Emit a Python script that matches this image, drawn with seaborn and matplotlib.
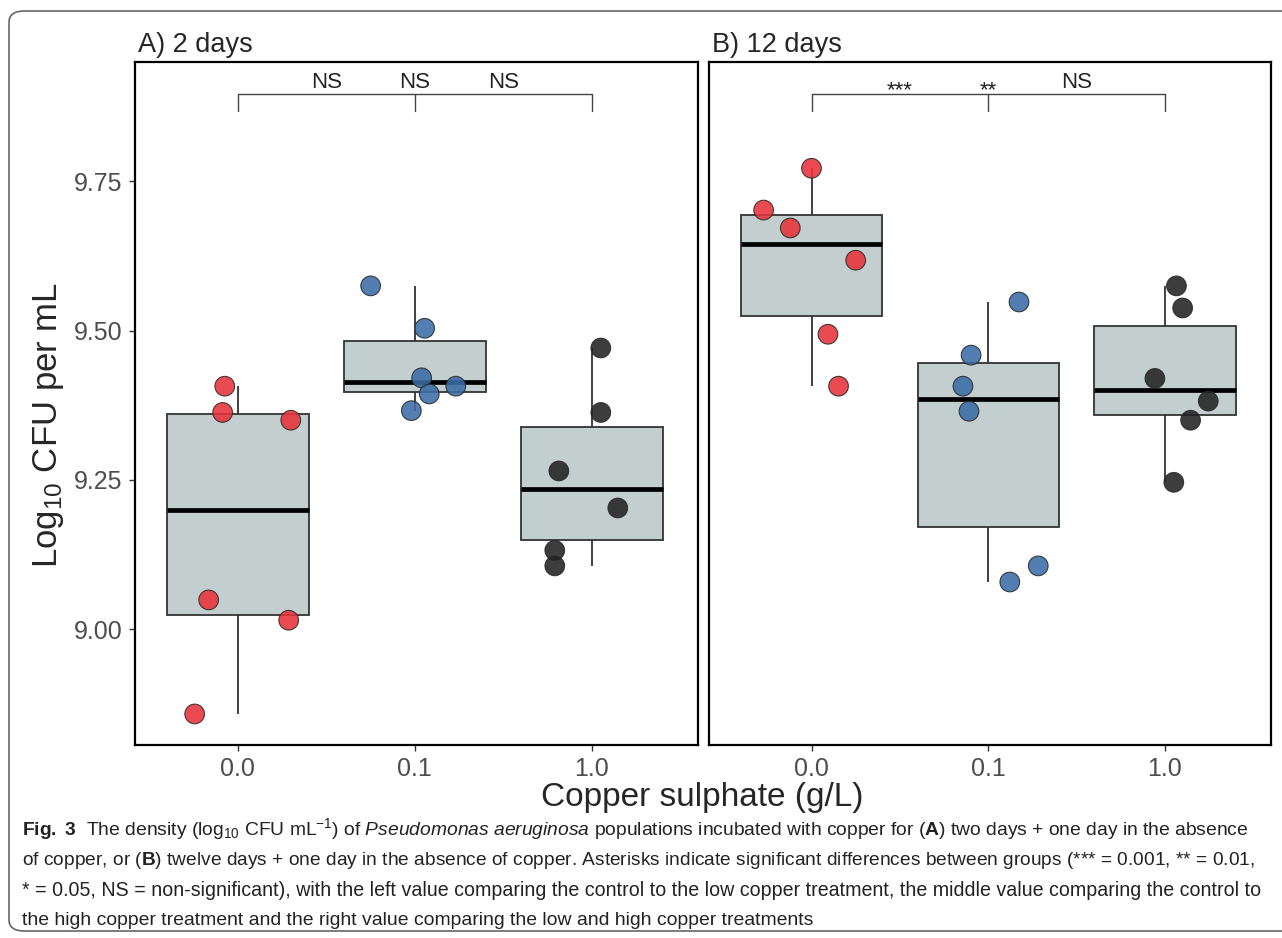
import numpy as np
import pandas as pd
import matplotlib
matplotlib.use("Agg")
import matplotlib.pyplot as plt
import seaborn as sns
from matplotlib.patches import FancyBboxPatch

# categories / labels
doses = ["0.0", "0.1", "1.0"]
panel_titles = ["A) 2 days", "B) 12 days"]
sig_a = ["NS", "NS", "NS"]
sig_b = ["***", "**", "NS"]

# Log10 CFU per mL, with horizontal jitter offsets
a_ctrl = [9.407, 9.363, 9.350, 9.049, 9.015, 8.858]
a_ctrl_dx = [-0.073, -0.085, 0.300, -0.164, 0.288, -0.243]
a_low = [9.575, 9.504, 9.421, 9.407, 9.394, 9.366]
a_low_dx = [-0.249, 0.056, 0.039, 0.232, 0.082, -0.019]
a_high = [9.471, 9.363, 9.265, 9.203, 9.132, 9.106]
a_high_dx = [0.051, 0.051, -0.186, 0.147, -0.209, -0.209]

b_ctrl = [9.772, 9.702, 9.672, 9.618, 9.494, 9.407]
b_ctrl_dx = [0.0, -0.271, -0.120, 0.250, 0.093, 0.153]
b_low = [9.548, 9.459, 9.407, 9.365, 9.106, 9.079]
b_low_dx = [0.174, -0.097, -0.143, -0.109, 0.283, 0.122]
b_high = [9.575, 9.538, 9.420, 9.382, 9.350, 9.246]
b_high_dx = [0.065, 0.100, -0.057, 0.245, 0.145, 0.050]

point_colors = {"0.0": "#E8323A", "0.1": "#3A6CA6", "1.0": "#222222"}
box_fill = "#C3CFCE"


def make_df(groups):
    rows = []
    for dose, vals, dxs in groups:
        for v, dx in zip(vals, dxs):
            rows.append({"dose": dose, "cfu": v, "dx": dx})
    df = pd.DataFrame(rows)
    df["xpos"] = df["dose"].map({d: i for i, d in enumerate(doses)}) + df["dx"]
    return df


df_a = make_df([("0.0", a_ctrl, a_ctrl_dx), ("0.1", a_low, a_low_dx), ("1.0", a_high, a_high_dx)])
df_b = make_df([("0.0", b_ctrl, b_ctrl_dx), ("0.1", b_low, b_low_dx), ("1.0", b_high, b_high_dx)])

sns.set_style("white")
plt.rcParams["font.family"] = ["Liberation Sans", "DejaVu Sans"]
plt.rcParams["mathtext.fontset"] = "custom"
plt.rcParams["mathtext.rm"] = "Liberation Sans"
plt.rcParams["mathtext.it"] = "Liberation Sans:italic"
plt.rcParams["mathtext.bf"] = "Liberation Sans:bold"
plt.rcParams["mathtext.default"] = "regular"

W, H = 1282, 938
fig = plt.figure(figsize=(W / 100, H / 100), dpi=100)


def fx(px):
    return px / W


def fy(py):
    return 1 - py / H


ax_a = fig.add_axes([fx(135), fy(745), fx(698 - 135), (745 - 62) / H])
ax_b = fig.add_axes([fx(709), fy(745), fx(1271 - 709), (745 - 62) / H])

for ax, df, title, sig in [(ax_a, df_a, panel_titles[0], sig_a), (ax_b, df_b, panel_titles[1], sig_b)]:
    sns.boxplot(data=df, x="dose", y="cfu", order=doses, width=0.8, color=box_fill,
                saturation=1, linecolor="#333333", linewidth=1.3, showcaps=False,
                showfliers=False, medianprops=dict(color="black", linewidth=3.4), ax=ax)
    sns.scatterplot(data=df, x="xpos", y="cfu", hue="dose", palette=point_colors,
                    s=200, edgecolor="#2a2a2a", linewidth=0.8, alpha=0.88,
                    legend=False, ax=ax, zorder=3)
    # significance bracket
    ax.plot([0, 0, 2, 2], [9.868, 9.896, 9.896, 9.868], color="#444444", lw=1.0)
    ax.plot([1, 1], [9.896, 9.868], color="#444444", lw=1.0)
    for i, lab in enumerate(sig):
        if lab.startswith("*"):
            ax.text(0.5 + 0.5 * i, 9.893, lab, ha="center", va="baseline", fontsize=16, color="#222222")
        else:
            ax.text(0.5 + 0.5 * i, 9.907, lab, ha="center", va="baseline", fontsize=16, color="#222222")
    ax.set_xlim(-0.58, 2.6)
    ax.set_ylim(8.806, 9.95)
    ax.set_xticks(range(3))
    ax.set_xticklabels(doses)
    ax.set_yticks([9.0, 9.25, 9.5, 9.75])
    ax.set_yticklabels(["9.00", "9.25", "9.50", "9.75"])
    ax.set_xlabel("")
    ax.set_ylabel("")
    ax.set_title(title, loc="left", fontsize=19.5, pad=7, x=0.005)
    for sp in ax.spines.values():
        sp.set_visible(True)
        sp.set_linewidth(1.6)
        sp.set_color("black")
    ax.tick_params(axis="both", which="both", direction="out", length=4, width=1,
                   color="#333333", labelcolor="#4D4D4D", labelsize=18, pad=5)
    ax.tick_params(left=True, bottom=True)

ax_b.tick_params(left=False, labelleft=False)

fig.text(fx(48), fy(425), r"Log$_{10}$ CFU per mL", rotation=90, ha="center", va="center",
         fontsize=25)
fig.text(fx(702), fy(797), "Copper sulphate (g/L)", ha="center", va="center", fontsize=24)

# caption, each of the first three lines justified to the reference width
cap_lines = [
    r"$\mathbf{Fig.\ 3}$  The density (log$_{10}$ CFU mL$^{-1}$) of $\mathit{Pseudomonas\ aeruginosa}$ populations incubated with copper for ($\mathbf{A}$) two days + one day in the absence",
    r"of copper, or ($\mathbf{B}$) twelve days + one day in the absence of copper. Asterisks indicate significant differences between groups (*** = 0.001, ** = 0.01,",
    r"* = 0.05, NS = non-significant), with the left value comparing the control to the low copper treatment, the middle value comparing the control to",
    r"the high copper treatment and the right value comparing the low and high copper treatments",
]
cap_y = [829, 860, 890, 920]
cap_w = [1233, 1241, 1240, None]
texts = []
for line, yy in zip(cap_lines, cap_y):
    texts.append(fig.text(fx(22), fy(yy), line, ha="left", va="center", fontsize=14,
                          color="#222222"))
fig.canvas.draw()
r = fig.canvas.get_renderer()
sizes = []
for t, target in zip(texts, cap_w):
    if target is None:
        continue
    w = t.get_window_extent(renderer=r).width
    s = 14 * target / w
    t.set_fontsize(s)
    sizes.append(s)
texts[3].set_fontsize(np.mean(sizes))

frame = FancyBboxPatch((fx(9), fy(931)), fx(1300 - 9), (931 - 11) / H,
                       boxstyle="round,pad=0,rounding_size=0.012",
                       transform=fig.transFigure, fill=False, edgecolor="#666666", lw=1.2)
fig.patches.append(frame)

fig.savefig("out.png", dpi=100)
